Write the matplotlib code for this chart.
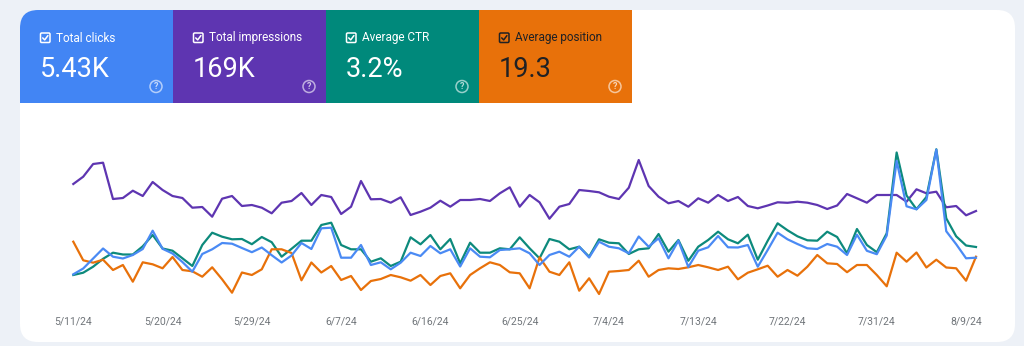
import matplotlib
matplotlib.use("Agg")
import matplotlib.pyplot as plt
from matplotlib.patches import FancyBboxPatch, Rectangle, Circle
import pandas as pd

# ---------------- data ----------------
start_date = "2024-05-11"
n_days = 92
dates = pd.date_range(start_date, periods=n_days, freq="D")

tile_labels = ["Total clicks", "Total impressions", "Average CTR", "Average position"]
tile_values = ["5.43K", "169K", "3.2%", "19.3"]

# Relative line heights (chart units, each metric scaled independently as in the source)
impressions = [121, 128.3, 141, 142.3, 106, 107, 114.3, 109, 123, 115, 109, 107, 97.3, 98, 88.3,
               106.3, 109, 99, 100, 97.3, 91.7, 102.3, 104, 112, 100, 110, 108, 91, 98.3, 124,
               105.7, 106, 102.3, 107.7, 90, 93.3, 97.3, 104.3, 98.3, 105, 105, 106, 104, 111.7,
               117.7, 98.3, 110, 102.7, 86.3, 98.3, 101, 115, 114, 112.7, 108.3, 106, 117.3, 145,
               119, 108.3, 101.7, 104, 98.3, 106.7, 102.3, 110, 104, 108, 99, 96.7, 99.5, 102.7,
               102.2, 103.3, 102.3, 100, 96, 99.5, 111, 106.7, 102.3, 110, 110, 110, 103.3, 115.7,
               111.7, 113.3, 97.7, 99, 89.7, 94]

clicks = [30.7, 36.5, 46.5, 56.5, 48.3, 46.5, 50, 56, 74.3, 56.2, 51.5, 43, 33.3, 51, 55.7, 62,
          61.3, 57, 52.8, 57.5, 49.8, 42.5, 49.5, 62, 56, 76.7, 77.3,
          47.3, 47.3, 60, 40, 42.7, 35.7, 42.3, 52.3, 49, 59, 51.7, 55.7, 38.5,
          56.7, 48.3, 47.7, 55, 55.7, 56.7, 51.7, 40, 50, 53.3, 48.3, 58.3, 47.5,
          63.3, 58.3, 56.7, 51.7, 68.5, 58.3, 66.7, 46.7, 64.3, 38, 54.3, 57.7, 69, 57.7,
          57.5, 60, 38.3, 55, 72.3, 65.7, 61, 56.7, 56, 61, 58.3, 50,
          70.3, 54.2, 50.8, 69.5, 144, 98.7, 95.7, 105, 155.3, 73.8, 60.8, 46.7, 47.3]

ctr = [30, 32.3, 38.3, 46.2, 52.3, 50.5, 50.5, 58.7, 70, 56.5, 54.3, 46.7, 39,
       60, 72.3, 68.3, 65.7, 66, 60.8, 68, 62.8, 48.3, 56.2, 64.3, 64.3, 80, 82.3,
       60, 55.7, 55.7, 43.3, 46.7, 39, 43.3, 67.7, 60.7, 70, 55.7, 66, 41.7,
       62.3, 52.3, 52.3, 56.7, 55.7, 67.7, 56.7, 46.7, 66, 63.3, 55.7, 58.3, 48.3,
       65.7, 62.3, 61.7, 51, 55.7, 56.7, 71, 53.3, 65, 44.2, 58.3, 65, 73.3, 65.7,
       61.7, 70.3, 45.3, 64.2, 81.7, 74.7, 68.7, 64.7, 64.3, 73.3, 68, 51.7,
       76, 60, 52.8, 71.7, 152.5, 109.5, 95.8, 108, 155.7, 86.7, 68.7, 59.5, 58]

position = [63.3, 44.7, 42.3, 45.3, 35, 40, 23.3, 42.7, 40.7, 36.7, 48, 35, 33.7,
            28.3, 37.7, 25.7, 12.3, 32.5, 30, 35.7, 55.7, 55.7, 52, 24.7, 42.5, 32.5, 39,
            25, 29, 15, 24, 26, 30, 27.7, 24.3, 30, 20, 29, 31.7, 16.7,
            30, 36.7, 42.7, 40, 32.7, 31.7, 16.7, 47.7, 33.3, 30, 42.7, 14.3, 26.7,
            11, 33.3, 34, 35, 44.3, 28.3, 35, 36.7, 36, 37.7, 40, 37.7, 35, 38.3,
            25.7, 32.3, 35.7, 39.3, 28.3, 35, 29.3, 38.3, 50, 41.7, 41, 32.8,
            40, 40, 30, 18.7, 52.3, 43.3, 52.5, 37.5, 45.3, 37.5, 36.7, 24.3, 48.3]

# ---------------- style ----------------
W, H, DPI = 1024, 346, 100
BG = "#edf1f7"
tile_colors = ["#4285f4", "#5e35b1", "#00897b", "#e8710a"]
tile_text = ["white", "white", "white", "#202124"]
line_colors = {"impressions": "#5e35b1", "ctr": "#0d8a7c", "position": "#e8710a", "clicks": "#4a8af4"}
FONT = ["Roboto", "DejaVu Sans"]
plt.rcParams["font.family"] = FONT

fig = plt.figure(figsize=(W / DPI, H / DPI), dpi=DPI, facecolor=BG)

# background / card layer in pixel space
bg = fig.add_axes([0, 0, 1, 1], zorder=0)
bg.set_xlim(0, W)
bg.set_ylim(H, 0)
bg.axis("off")

card_x0, card_y0, card_w, card_h, rad = 20, 10, 995, 332, 18
bg.add_patch(FancyBboxPatch((card_x0, card_y0), card_w, card_h,
                            boxstyle=f"round,pad=0,rounding_size={rad}",
                            fc="white", ec="none"))

tile_w, tile_h = 153, 93
for k, (lab, val, col, tc) in enumerate(zip(tile_labels, tile_values, tile_colors, tile_text)):
    tx = card_x0 + k * tile_w
    if k == 0:
        bg.add_patch(FancyBboxPatch((tx, card_y0), tile_w, tile_h,
                                    boxstyle=f"round,pad=0,rounding_size={rad}",
                                    fc=col, ec="none"))
        bg.add_patch(Rectangle((tx + rad, card_y0), tile_w - rad, tile_h, fc=col, ec="none"))
        bg.add_patch(Rectangle((tx, card_y0 + rad), tile_w, tile_h - rad, fc=col, ec="none"))
    else:
        bg.add_patch(Rectangle((tx, card_y0), tile_w, tile_h, fc=col, ec="none"))
    # checkbox icon
    cb_x, cb_y, cb_s = tx + 20.5, 33, 9.5
    bg.add_patch(FancyBboxPatch((cb_x, cb_y), cb_s, cb_s,
                                boxstyle="round,pad=0,rounding_size=1.2",
                                fill=False, ec=tc, lw=1.1))
    bg.plot([cb_x + 2.2, cb_x + 4.2, cb_x + 7.4], [cb_y + 4.9, cb_y + 6.9, cb_y + 2.6],
            color=tc, lw=1.1, solid_capstyle="round", solid_joinstyle="round")
    bg.text(tx + 36, 38, lab, color=tc, fontsize=8.5, ha="left", va="center")
    bg.text(tx + 20, 77, val, color=tc, fontsize=19.5, ha="left", va="baseline")
    qc = (tx + 136, 86.5)
    bg.add_patch(Circle(qc, 6, fill=False, ec="white", lw=1.1, alpha=0.6))
    bg.text(qc[0], qc[1] + 0.3, "?", color="white", alpha=0.7, fontsize=6.5,
            ha="center", va="center", fontweight="bold")

# chart layer
x_left, x_right, y_bot, y_top = 73.3, 976, 305, 140
ax = fig.add_axes([x_left / W, (H - y_bot) / H, (x_right - x_left) / W, (y_bot - y_top) / H],
                  zorder=1)
ax.patch.set_alpha(0)
ax.plot(dates, impressions, color=line_colors["impressions"], lw=1.6, clip_on=False,
        solid_joinstyle="round")
ax.plot(dates, ctr, color=line_colors["ctr"], lw=1.6, clip_on=False, solid_joinstyle="round")
ax.plot(dates, position, color=line_colors["position"], lw=1.6, clip_on=False,
        solid_joinstyle="round")
ax.plot(dates, clicks, color=line_colors["clicks"], lw=1.6, clip_on=False,
        solid_joinstyle="round")
ax.set_xlim(dates[0], dates[-1])
ax.set_ylim(0, y_bot - y_top)
for s in ax.spines.values():
    s.set_visible(False)
ax.set_yticks([])
tick_dates = dates[::9]
ax.set_xticks(tick_dates)
ax.set_xticklabels([f"{d.month}/{d.day}/{d.strftime('%y')}" for d in tick_dates])
ax.tick_params(axis="x", length=0, pad=8, labelsize=7.5, labelcolor="#70757a")

fig.savefig("out.png", dpi=DPI, facecolor=BG)
